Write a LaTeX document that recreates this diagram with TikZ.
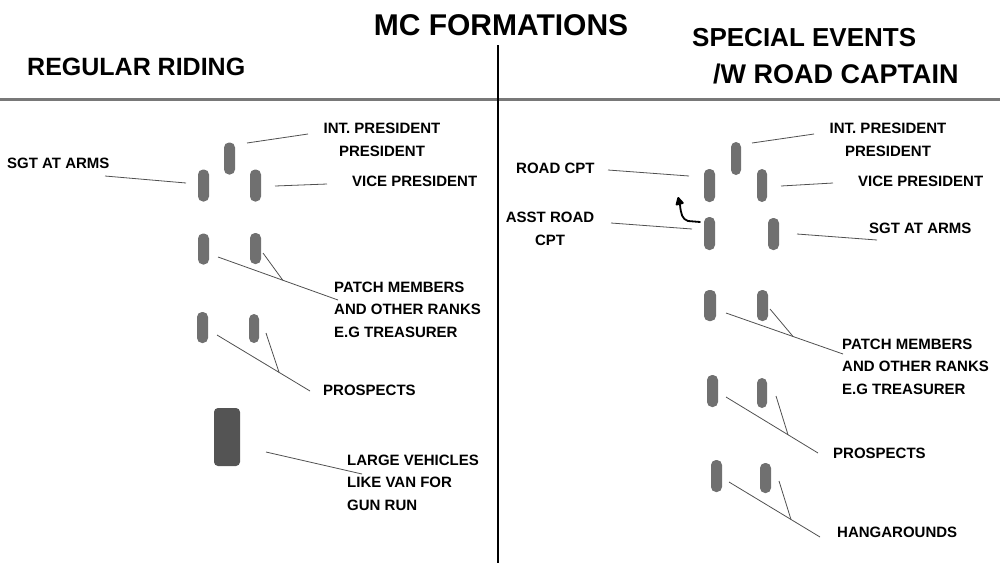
\documentclass[tikz,border=0pt]{standalone}
\usepackage{fontspec}
\setmainfont{Liberation Sans}
\usetikzlibrary{calc,arrows.meta}
\definecolor{bikegray}{HTML}{707070}
\definecolor{vangray}{HTML}{545454}
\definecolor{linegray}{HTML}{505050}
\definecolor{rulegray}{HTML}{787878}
\tikzset{
  bike/.style={fill=bikegray, draw=none, rounded corners=5pt, inner sep=0pt,
    minimum width=11pt, minimum height=32pt},
  van/.style={fill=vangray, draw=none, rounded corners=4pt, inner sep=0pt,
    minimum width=26pt, minimum height=58pt},
  lbl/.style={font=\bfseries\fontsize{15}{22.5}\selectfont, inner sep=0pt, anchor=base west, align=left},
  clbl/.style={font=\bfseries\fontsize{15}{22.5}\selectfont, inner sep=0pt, anchor=base, align=center},
  head/.style={font=\bfseries\fontsize{25}{37}\selectfont, inner sep=0pt, anchor=base west},
  title/.style={font=\bfseries\fontsize{30}{36}\selectfont, inner sep=0pt, anchor=base},
  conn/.style={draw=linegray, line width=0.8pt},
}
\begin{document}
\begin{tikzpicture}[x=1pt,y=-1pt]
\useasboundingbox (0,0) rectangle (1000,563);
% separators
\coordinate (hl) at (0,99); \coordinate (hr) at (1000,99);
\coordinate (vt) at (498,45); \coordinate (vb) at (498,563);
\draw[rulegray, line width=3pt] (hl) -- (hr);
\draw[black, line width=2.5pt] (vt) -- (vb);
% headers
\node[title] (t) at (501,35.7) {MC FORMATIONS};
\node[head] (hleft) at (27,75) {REGULAR RIDING};
\node[head, font=\bfseries\fontsize{26}{37}\selectfont] (hr1) at (692,46) {SPECIAL EVENTS};
\node[head, font=\bfseries\fontsize{27}{37}\selectfont] (hr2) at (713,83) {/W ROAD CAPTAIN};

% ---------------- left side ----------------
\node[bike] (L1) at (229.5,158.5) {};
\node[bike] (L2) at (203.5,185.5) {};
\node[bike] (L3) at (255.5,185.5) {};
\node[bike, minimum height=31pt] (L4) at (203.5,249) {};
\node[bike, minimum height=31pt] (L5) at (255.5,248.5) {};
\node[bike, minimum height=31pt] (L6) at (202.5,327.5) {};
\node[bike, minimum width=10pt, minimum height=29pt] (L7) at (254,328.5) {};
\node[van] (V) at (227,437) {};

\node[clbl] (lint) at (382,156) {INT. PRESIDENT\\PRESIDENT};
\node[lbl] (lsgt) at (7,168) {SGT AT ARMS};
\node[lbl] (lvp) at (352,186) {VICE PRESIDENT};
\node[lbl] (lpatch) at (334,337) {PATCH MEMBERS\\AND OTHER RANKS\\E.G TREASURER};
\node[lbl] (lpros) at (323,395) {PROSPECTS};
\node[lbl] (lvan) at (347,510) {LARGE VEHICLES\\LIKE VAN FOR\\GUN RUN};

\coordinate (a1) at (247,143); \coordinate (b1) at (308,134);
\coordinate (a2) at (186,183); \coordinate (b2) at (105,176);
\coordinate (a3) at (275,186); \coordinate (b3) at (327,184);
\coordinate (a4) at (218,257); \coordinate (b4) at (338,300); \coordinate (c4) at (263,253);
\coordinate (a5) at (217,335); \coordinate (b5) at (310,391); \coordinate (c5) at (266,333);
\coordinate (a6) at (266,452); \coordinate (b6) at (362,474);
\draw[conn] (a1) -- (b1);
\draw[conn] (a2) -- (b2);
\draw[conn] (a3) -- (b3);
\draw[conn] (a4) -- (b4);
\draw[conn] (c4) -- ($(a4)!0.54!(b4)$);
\draw[conn] (a5) -- (b5);
\draw[conn] (c5) -- ($(a5)!0.667!(b5)$);
\draw[conn] (a6) -- (b6);

% ---------------- right side ----------------
\node[bike, minimum width=10pt, minimum height=33pt] (R1) at (736,158.5) {};
\node[bike, minimum height=33pt] (R2) at (709.5,185.5) {};
\node[bike, minimum width=10pt, minimum height=33pt] (R3) at (762,185.5) {};
\node[bike, minimum height=33pt] (R4) at (709.5,233.5) {};
\node[bike] (R5) at (773.5,234) {};
\node[bike, minimum width=12pt, minimum height=31pt] (R6) at (710,305.5) {};
\node[bike, minimum height=31pt] (R7) at (762.5,305.5) {};
\node[bike] (R8) at (712.5,391) {};
\node[bike, minimum width=10pt, minimum height=30pt] (R9) at (762,393) {};
\node[bike] (R10) at (716.5,476) {};
\node[bike, minimum height=30pt] (R11) at (765.5,478) {};

\node[clbl] (rint) at (888,156) {INT. PRESIDENT\\PRESIDENT};
\node[lbl] (rroad) at (516,173) {ROAD CPT};
\node[lbl] (rvp) at (858,186) {VICE PRESIDENT};
\node[clbl] (rasst) at (550,245) {ASST ROAD\\CPT};
\node[lbl] (rsgt) at (869,233) {SGT AT ARMS};
\node[lbl] (rpatch) at (842,394) {PATCH MEMBERS\\AND OTHER RANKS\\E.G TREASURER};
\node[lbl] (rpros) at (833,458) {PROSPECTS};
\node[lbl] (rhang) at (837,537) {HANGAROUNDS};

\coordinate (d1) at (752,143); \coordinate (e1) at (814,134);
\coordinate (d2) at (689,176); \coordinate (e2) at (608,170);
\coordinate (d3) at (781,186); \coordinate (e3) at (833,183);
\coordinate (d4) at (692,229); \coordinate (e4) at (611,223);
\coordinate (d5) at (797,234); \coordinate (e5) at (877,240);
\coordinate (d6) at (726,313); \coordinate (e6) at (843,354); \coordinate (f6) at (770,309);
\coordinate (d7) at (726,397); \coordinate (e7) at (818,453); \coordinate (f7) at (776,396);
\coordinate (d8) at (729,482); \coordinate (e8) at (820,537); \coordinate (f8) at (779,481);
\draw[conn] (d1) -- (e1);
\draw[conn] (d2) -- (e2);
\draw[conn] (d3) -- (e3);
\draw[conn] (d4) -- (e4);
\draw[conn] (d5) -- (e5);
\draw[conn] (d6) -- (e6);
\draw[conn] (f6) -- ($(d6)!0.573!(e6)$);
\draw[conn] (d7) -- (e7);
\draw[conn] (f7) -- ($(d7)!0.674!(e7)$);
\draw[conn] (d8) -- (e8);
\draw[conn] (f8) -- ($(d8)!0.681!(e8)$);

% hand-drawn arrow
\coordinate (arS) at (700,222);
\coordinate (arT) at (678,197);
\draw[black, line width=1.8pt, line cap=round, line join=round,
  -{Triangle[length=9pt,width=9pt,round]}]
  (arS) -- (688,221) .. controls (682,219) and (681,214) .. (680,205) -- (arT);
\end{tikzpicture}
\end{document}
